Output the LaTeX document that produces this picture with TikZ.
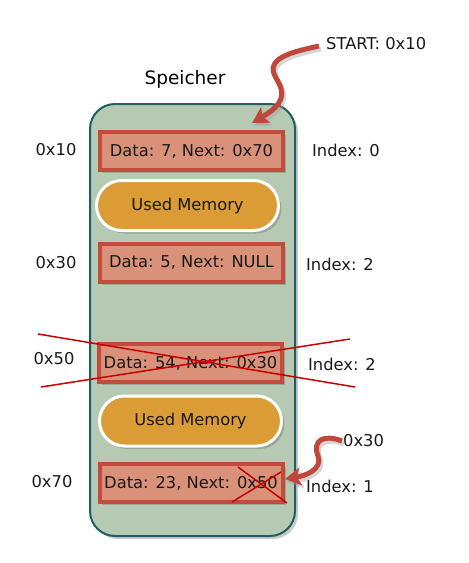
\documentclass[tikz,border=0pt]{standalone}
\usepackage{fontspec}
\setmainfont{DejaVu Sans}
\usetikzlibrary{shadows,arrows.meta}
\definecolor{memfill}{HTML}{B6CAB3}
\definecolor{memline}{HTML}{1E5E65}
\definecolor{cellfill}{HTML}{D9917A}
\definecolor{cellline}{HTML}{C24B3B}
\definecolor{usedfill}{HTML}{DC9C35}
\definecolor{crossred}{HTML}{C80000}
\definecolor{arrowred}{HTML}{C0483A}
\tikzset{
  shade1/.style={drop shadow={shadow xshift=3pt,shadow yshift=-3pt,opacity=0.35,fill=black!60}},
  txt/.style={font=\fontsize{16.3}{18}\selectfont,text=black!90},
  memory/.style={draw=memline,line width=2pt,fill=memfill,rounded corners=25pt,minimum width=205pt,minimum height=432pt,inner sep=0pt,shade1},
  cell/.style={draw=cellline,line width=4pt,fill=cellfill,minimum width=183pt,minimum height=38pt,inner sep=0pt,shade1,txt},
  used/.style={draw=white,line width=3pt,fill=usedfill,rounded corners=25pt,minimum width=182pt,minimum height=50pt,inner sep=0pt,shade1,txt},
  lbl/.style={inner sep=0pt,txt},
  cross/.style={draw=crossred,line width=1.5pt},
  ptr/.style={draw=arrowred,line width=5pt,-{Stealth[length=16pt,width=18pt,inset=4pt]},
    preaction={draw=black!40,opacity=0.4,line width=5pt,transform canvas={shift={(2pt,-3pt)}}}}
}
\begin{document}
\begin{tikzpicture}[x=1pt,y=-1pt]
\useasboundingbox (0,0) rectangle (469,563);
\node[memory] (mem) at (192.5,320) {};
\node[inner sep=0pt,font=\fontsize{18.5}{20}\selectfont] (title) at (185,79) {Speicher};
\node[cell] (c1) at (191.5,151) {Data: 7, Next: 0x70};
\node[used] (u1) at (187.5,205.5) {Used Memory};
\node[cell] (c2) at (191.5,263) {Data: 5, Next: NULL};
\node[cell] (c3) at (190.5,363) {Data: 54, Next: 0x30};
\node[used] (u2) at (190.5,421) {Used Memory};
\node[cell] (c4) at (191,483) {Data: 23, Next: 0x50};
\node[lbl] (a1) at (56,150) {0x10};
\node[lbl] (a2) at (56,263) {0x30};
\node[lbl] (a3) at (54,359) {0x50};
\node[lbl] (a4) at (52,482) {0x70};
\node[lbl] (i1) at (346,150) {Index: 0};
\node[lbl] (i2) at (340,264) {Index: 2};
\node[lbl] (i3) at (342,364) {Index: 2};
\node[lbl] (i4) at (340,486) {Index: 1};
\node[lbl,anchor=west] (start) at (326,44) {START: 0x10};
\node[lbl,anchor=west] (n30) at (343,441) {0x30};
% crosses
\coordinate (x1a) at (38,334); \coordinate (x1b) at (355,387);
\coordinate (x2a) at (41,387); \coordinate (x2b) at (350,339);
\draw[cross] (x1a) -- (x1b);
\draw[cross] (x2a) -- (x2b);
\coordinate (y1a) at (238,467); \coordinate (y1b) at (287,503);
\coordinate (y2a) at (232,502); \coordinate (y2b) at (281,472);
\draw[cross] (y1a) -- (y1b);
\draw[cross] (y2a) -- (y2b);
% pointers
\coordinate (s0) at (319,46);
\coordinate (s1) at (252,123);
\draw[ptr] (s0) .. controls (292,52) and (264,58) .. (276,78)
  .. controls (286,94) and (284,104) .. (s1);
\coordinate (t0) at (342,441);
\coordinate (t1) at (285,479);
\draw[ptr] (t0) .. controls (324,434) and (312,440) .. (318,456)
  .. controls (323,470) and (304,476) .. (t1);
\end{tikzpicture}
\end{document}
